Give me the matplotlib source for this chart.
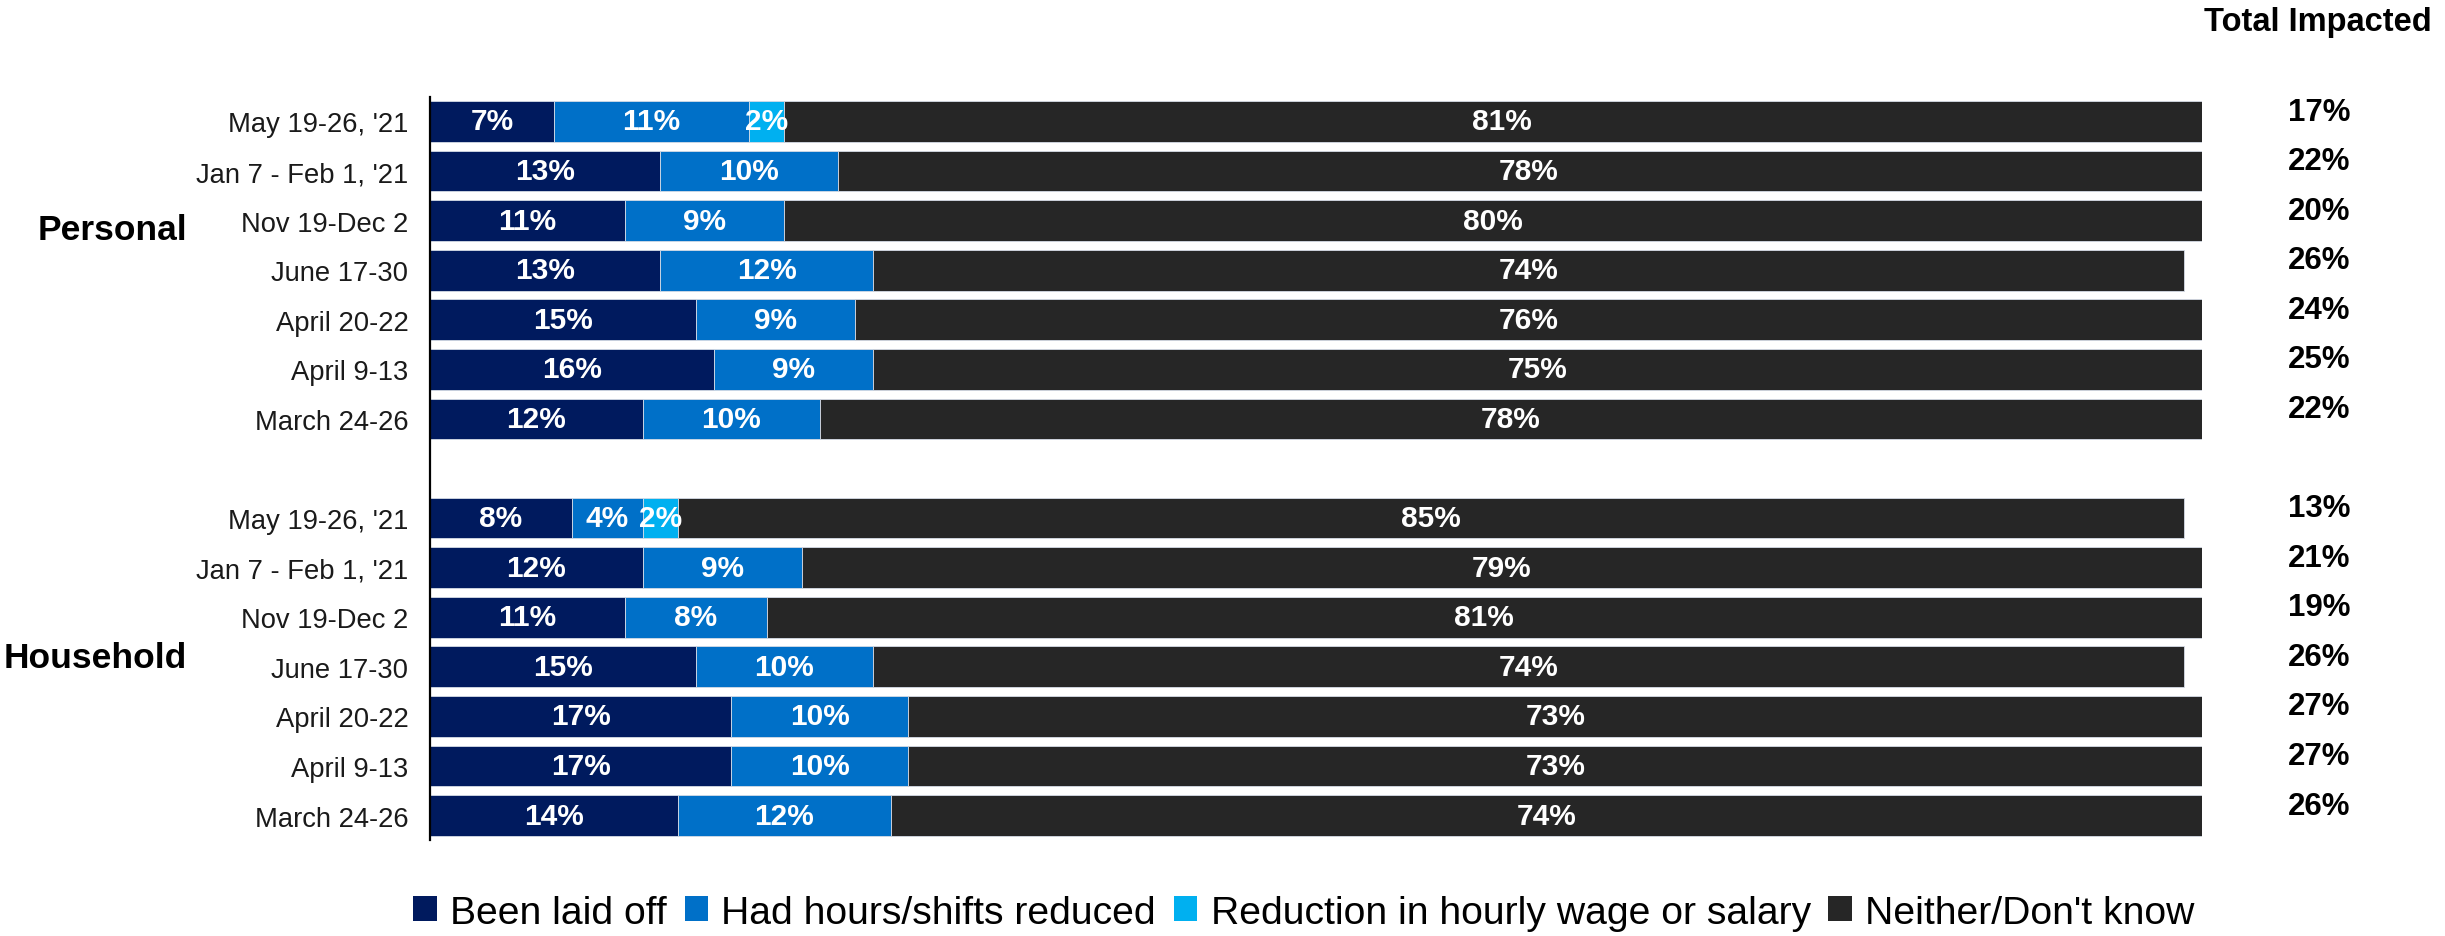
import matplotlib
matplotlib.use("Agg")
import matplotlib.pyplot as plt
from matplotlib.patches import Patch
from matplotlib.transforms import blended_transform_factory

plt.rcParams["font.family"] = ["Liberation Sans", "DejaVu Sans"]

# Survey waves, newest first
periods = ["May 19-26, '21", "Jan 7 - Feb 1, '21", "Nov 19-Dec 2", "June 17-30",
           "April 20-22", "April 9-13", "March 24-26"]
groups = ["Personal", "Household"]
series_names = ["Been laid off", "Had hours/shifts reduced",
                "Reduction in hourly wage or salary", "Neither/Don't know"]
series_colors = ["#001A5E", "#0070C8", "#00B0F0", "#262626"]

# Personal impact (%)
personal_laid_off = [7, 13, 11, 13, 15, 16, 12]
personal_hours = [11, 10, 9, 12, 9, 9, 10]
personal_wage = [2, None, None, None, None, None, None]
personal_neither = [81, 78, 80, 74, 76, 75, 78]
personal_total = [17, 22, 20, 26, 24, 25, 22]

# Household impact (%)
household_laid_off = [8, 12, 11, 15, 17, 17, 14]
household_hours = [4, 9, 8, 10, 10, 10, 12]
household_wage = [2, None, None, None, None, None, None]
household_neither = [85, 79, 81, 74, 73, 73, 74]
household_total = [13, 21, 19, 26, 27, 27, 26]

W, H = 2445, 937
fig = plt.figure(figsize=(W / 100, H / 100), dpi=100)
ax_left, ax_right = 430, 2202
ax_top, ax_bottom = 97.7, 841.3
ax = fig.add_axes([ax_left / W, 1 - ax_bottom / H,
                   (ax_right - ax_left) / W, (ax_bottom - ax_top) / H])

n = len(periods)
group_rows = [list(range(n)), [n + 1 + i for i in range(n)]]
group_series = [
    [personal_laid_off, personal_hours, personal_wage, personal_neither],
    [household_laid_off, household_hours, household_wage, household_neither],
]
group_totals = [personal_total, household_total]

bar_h = 0.82
for rows, series in zip(group_rows, group_series):
    for i, y in enumerate(rows):
        left = 0
        for vals, color in zip(series, series_colors):
            v = vals[i]
            if v is None:
                continue
            ax.barh(y, v, left=left, height=bar_h, color=color,
                    edgecolor="#d5dbe6", linewidth=0.6)
            ax.text(left + v / 2, y, f"{v}%", ha="center", va="center",
                    color="white", fontsize=21.5, fontweight="bold")
            left += v

all_rows = group_rows[0] + group_rows[1]
ax.set_yticks(all_rows)
ax.set_yticklabels(periods + periods, fontsize=19.7, color="#1a1a1a")
ax.tick_params(axis="y", length=0, pad=15.5)
ax.set_xticks([])
ax.set_xlim(0, 100)
ax.set_ylim(all_rows[-1] + 0.5, -0.5)
for side in ("top", "right", "bottom"):
    ax.spines[side].set_visible(False)
ax.spines["left"].set_linewidth(1.6)
ax.spines["left"].set_color("black")

# Totals column on the right
trans_fy = blended_transform_factory(fig.transFigure, ax.transData)
for rows, totals in zip(group_rows, group_totals):
    for y, t in zip(rows, totals):
        ax.text(2319 / W, y - 0.2, f"{t}%", transform=trans_fy, ha="center",
                va="center", fontsize=22.5, fontweight="bold", color="black")

fig.text(2318 / W, 1 - 22.5 / H, "Total Impacted", ha="center", va="center",
         fontsize=23.5, fontweight="bold", color="black")

# Group labels
for label, yc in zip(groups, [2.17, 10.82]):
    ax.text(187 / W, yc, label, transform=trans_fy, ha="right", va="center",
            fontsize=25.5, fontweight="bold", color="black")

handles = [Patch(facecolor=c, edgecolor="none") for c in series_colors]
fig.legend(handles, series_names, loc="center",
           bbox_to_anchor=(1304 / W, 1 - 913.7 / H), ncol=4, frameon=False,
           fontsize=28.2, handlelength=0.6, handleheight=0.6,
           handletextpad=0.34, columnspacing=0.45, borderpad=0)

fig.savefig("out.png", dpi=100)
